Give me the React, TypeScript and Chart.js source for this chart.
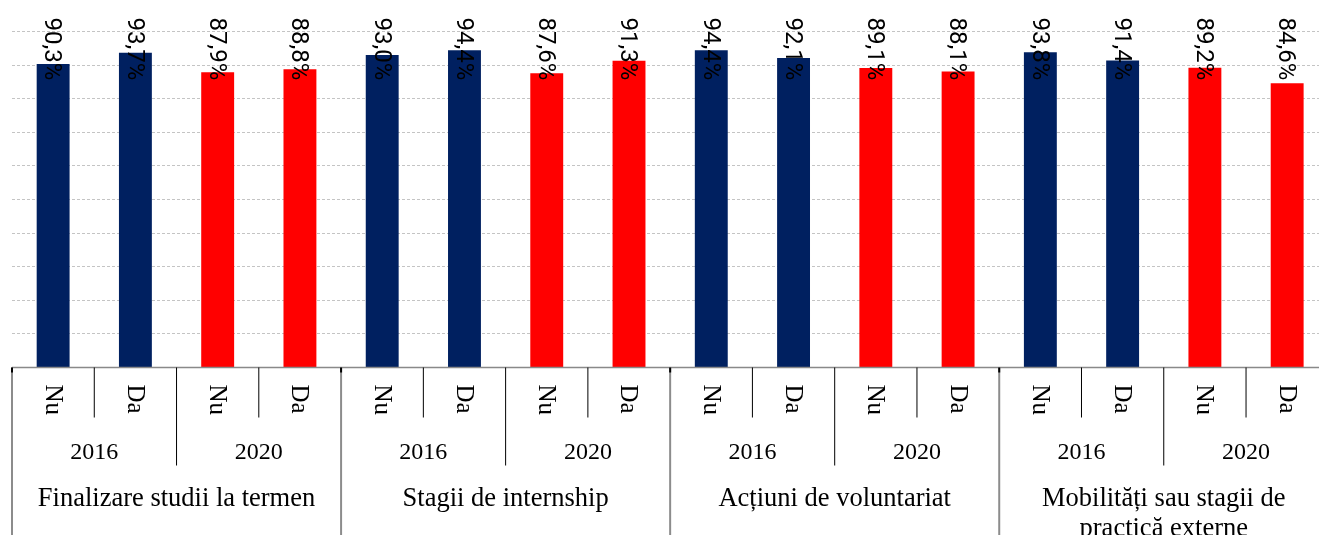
import React, { useEffect, useRef } from "react";
import { Chart, registerables } from "chart.js";

Chart.register(...registerables);

const groups: string[][] = [
  ["Finalizare studii la termen"],
  ["Stagii de internship"],
  ["Acțiuni de voluntariat"],
  ["Mobilități sau stagii de", "practică externe"],
];
const years = ["2016", "2020"];
const answers = ["Nu", "Da"];
const nu2016 = [90.3, 93.0, 94.4, 93.8];
const da2016 = [93.7, 94.4, 92.1, 91.4];
const nu2020 = [87.9, 87.6, 89.1, 89.2];
const da2020 = [88.8, 91.3, 88.1, 84.6];
const yearColors = ["#002060", "#FF0000"];
const yMin = 0;
const yMax = 100;
const yStep = 10;

const labels: string[] = [];
const values: number[] = [];
const colors: string[] = [];
groups.forEach((g, gi) => {
  const vals = [nu2016[gi], da2016[gi], nu2020[gi], da2020[gi]];
  vals.forEach((v, k) => {
    const yi = Math.floor(k / 2);
    labels.push(`${g.join(" ")} ${years[yi]} ${answers[k % 2]}`);
    values.push(v);
    colors.push(yearColors[yi]);
  });
});

const fmt = (v: number) => v.toFixed(1).replace(".", ",") + "%";

const decorPlugin = {
  id: "decor",
  afterDatasetsDraw(chart: any) {
    const ctx = chart.ctx as CanvasRenderingContext2D;
    const meta = chart.getDatasetMeta(0);
    ctx.save();
    ctx.fillStyle = "#000";
    ctx.font = '24px Roboto';
    ctx.textAlign = "left";
    ctx.textBaseline = "middle";
    meta.data.forEach((el: any, i: number) => {
      ctx.save();
      ctx.translate(el.x - 1.7, 17.5);
      ctx.rotate(Math.PI / 2);
      ctx.fillText(fmt(values[i]), 0, 0);
      ctx.restore();
    });
    ctx.restore();
  },
  afterDraw(chart: any) {
    const ctx = chart.ctx as CanvasRenderingContext2D;
    const xs = chart.scales.x;
    const area = chart.chartArea;
    const n = values.length;
    const w = (xs.getPixelForValue(n - 1) - xs.getPixelForValue(0)) / (n - 1);
    const edge = (k: number) => xs.getPixelForValue(0) - w / 2 + k * w;
    const axisY = area.bottom;
    const bottom = chart.height;
    ctx.save();
    // axis line
    ctx.strokeStyle = "#898989";
    ctx.lineWidth = 1.5;
    ctx.beginPath();
    ctx.moveTo(area.left, axisY);
    ctx.lineTo(chart.width, axisY);
    ctx.stroke();
    // dividers
    for (let k = 0; k <= n; k++) {
      const x = edge(k);
      if (k % 4 === 0) {
        ctx.strokeStyle = "#8c8c8c";
        ctx.lineWidth = 2;
        ctx.beginPath();
        ctx.moveTo(x, axisY);
        ctx.lineTo(x, bottom);
        ctx.stroke();
        ctx.strokeStyle = "#000";
        ctx.beginPath();
        ctx.moveTo(x, axisY);
        ctx.lineTo(x, axisY + 5);
        ctx.stroke();
      } else {
        ctx.strokeStyle = "#000";
        ctx.lineWidth = 1;
        ctx.beginPath();
        ctx.moveTo(x, axisY);
        ctx.lineTo(x, k % 2 === 0 ? axisY + 98 : axisY + 50);
        ctx.stroke();
      }
    }
    ctx.fillStyle = "#000";
    // Nu / Da
    ctx.font = '25px "Liberation Serif"';
    ctx.textAlign = "left";
    ctx.textBaseline = "middle";
    for (let i = 0; i < n; i++) {
      ctx.save();
      ctx.translate(xs.getPixelForValue(i) - 1, axisY + 17);
      ctx.rotate(Math.PI / 2);
      ctx.fillText(answers[i % 2], 0, 0);
      ctx.restore();
    }
    // years
    ctx.font = '24px "Liberation Serif"';
    ctx.textAlign = "center";
    ctx.textBaseline = "alphabetic";
    for (let j = 0; j < n / 2; j++) {
      const cx = (edge(2 * j) + edge(2 * j + 2)) / 2;
      ctx.fillText(years[j % 2], cx, axisY + 91);
    }
    // groups
    ctx.font = '26.5px "Liberation Serif"';
    groups.forEach((g, gi) => {
      const cx = (edge(4 * gi) + edge(4 * gi + 4)) / 2;
      g.forEach((line, li) => {
        ctx.fillText(line, cx, axisY + 138.5 + li * 30);
      });
    });
    ctx.restore();
  },
};

export default function App() {
  const ref = useRef<HTMLCanvasElement | null>(null);
  useEffect(() => {
    if (!ref.current) return;
    const chart = new Chart(ref.current, {
      type: "bar",
      data: {
        labels,
        datasets: [
          {
            data: values,
            backgroundColor: colors,
            borderWidth: 0,
            barPercentage: 0.8,
            categoryPercentage: 0.5,
          },
        ],
      },
      options: {
        animation: false,
        responsive: false,
        devicePixelRatio: 1,
        layout: { padding: { left: 12, top: 31.5, right: 11.7, bottom: 212.5 } },
        plugins: { legend: { display: false }, tooltip: { enabled: false } },
        scales: {
          x: { display: false, offset: true },
          y: {
            display: true,
            min: yMin,
            max: yMax,
            ticks: { display: false, stepSize: yStep },
            grid: { color: "#c4c4c4", lineWidth: 1, drawTicks: false },
            border: { display: false, dash: [3, 2] },
          },
        },
      },
      plugins: [decorPlugin],
    });
    return () => chart.destroy();
  }, []);
  return (
    <div
      style={{
        position: "fixed",
        left: 0,
        top: 0,
        width: "1319px",
        height: "535px",
        overflow: "hidden",
        background: "#fff",
      }}
    >
      <canvas
        ref={ref}
        width={1340}
        height={580}
        style={{ display: "block", width: "1340px", height: "580px" }}
      />
    </div>
  );
}
